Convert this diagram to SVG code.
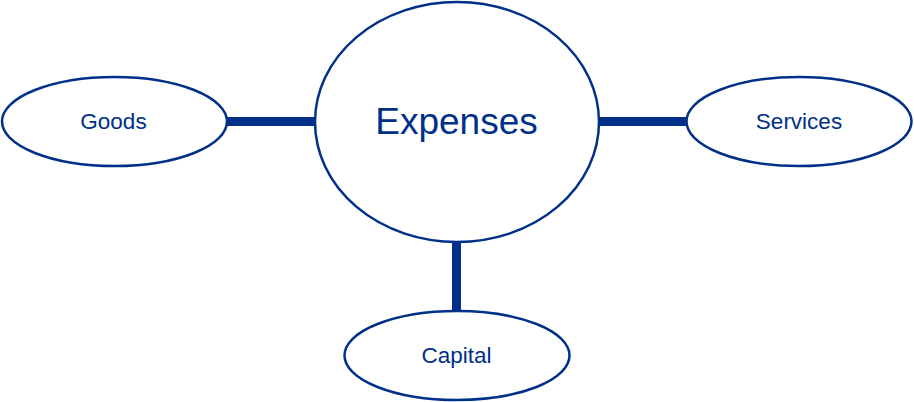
<svg xmlns="http://www.w3.org/2000/svg" width="914" height="402" viewBox="0 0 914 402">
<style>
.n{fill:#fff;stroke:#003087;stroke-width:2.5}
.t{font-family:"Liberation Sans",Arial,sans-serif;fill:#003087;text-anchor:middle;dominant-baseline:central}
.c{stroke:#003087;stroke-width:9;fill:none}
</style>
<rect width="914" height="402" fill="#fff"/>
<g id="connectors">
<line class="c" x1="226" y1="121.5" x2="316" y2="121.5"/>
<line class="c" x1="598" y1="121.5" x2="688" y2="121.5"/>
<line class="c" x1="456.5" y1="241" x2="456.5" y2="312"/>
</g>
<g id="expenses">
<ellipse class="n" cx="457" cy="122" rx="142" ry="120"/>
<text class="t" x="456.5" y="121.5" font-size="37">Expenses</text>
</g>
<g id="goods">
<ellipse class="n" cx="114.5" cy="121.5" rx="112.5" ry="44.5"/>
<text class="t" x="113.5" y="121" font-size="22.5">Goods</text>
</g>
<g id="services">
<ellipse class="n" cx="799" cy="121.5" rx="112.5" ry="44.5"/>
<text class="t" x="799" y="121" font-size="22.5">Services</text>
</g>
<g id="capital">
<ellipse class="n" cx="457" cy="355.5" rx="112.5" ry="44.5"/>
<text class="t" x="456.5" y="355" font-size="22.5">Capital</text>
</g>
</svg>
